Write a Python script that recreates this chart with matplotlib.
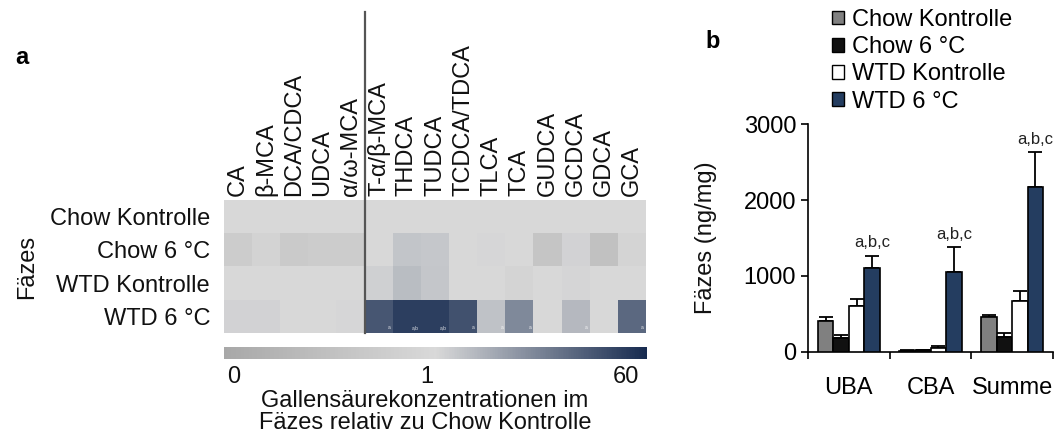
import matplotlib
matplotlib.use('Agg')
import matplotlib.pyplot as plt
import matplotlib.colors as mcolors
from matplotlib.patches import Patch
import numpy as np

plt.rcParams['font.family'] = ['Liberation Sans', 'DejaVu Sans']

# ── Data: heatmap (concentration relative to Chow Kontrolle) ─────────────────
acids = ['CA', 'β-MCA', 'DCA/CDCA', 'UDCA', 'α/ω-MCA', 'T-α/β-MCA', 'THDCA',
         'TUDCA', 'TCDCA/TDCA', 'TLCA', 'TCA', 'GUDCA', 'GCDCA', 'GDCA', 'GCA']
groups = ['Chow Kontrolle', 'Chow 6 °C', 'WTD Kontrolle', 'WTD 6 °C']
ratio_chow_ctrl = [1.0] * 15
ratio_chow_cold = [0.75, 0.88, 0.71, 0.75, 0.75, 1.0, 1.6, 1.5, 1.0, 1.05,
                   1.0, 0.61, 1.15, 0.53, 0.9]
ratio_wtd_ctrl = [1.02, 1.02, 1.0, 1.0, 1.0, 1.25, 1.9, 1.55, 1.0, 1.0,
                  0.9, 1.0, 1.1, 1.0, 1.0]
ratio_wtd_cold = [1.15, 1.15, 1.0, 1.0, 1.05, 21, 38, 38, 24, 1.68,
                  6.5, 1.0, 2.1, 1.0, 14]
sig_wtd_cold = ['', '', '', '', '', 'a', 'a,b', 'a,b', 'a', 'a',
                'a', '', 'a', '', 'a']

# ── Data: bar chart (ng/mg) ──────────────────────────────────────────────────
bile_cats = ['UBA', 'CBA', 'Summe']
series = ['Chow Kontrolle', 'Chow 6 °C', 'WTD Kontrolle', 'WTD 6 °C']
mean_chow_ctrl = [410, 15, 455]
mean_chow_cold = [187, 25, 200]
mean_wtd_ctrl = [601, 50, 667]
mean_wtd_cold = [1102, 1050, 2170]
err_chow_ctrl = [51, 5, 30]
err_chow_cold = [35, 5, 52]
err_wtd_ctrl = [101, 30, 134]
err_wtd_cold = [162, 326, 457]
sig_labels = ['a,b,c', 'a,b,c', 'a,b,c']

NAVY = '#243d60'
bar_colors = ['#808080', '#111111', '#ffffff', NAVY]
FS = 17

W, H = 1055, 434
fig = plt.figure(figsize=(W / 100, H / 100), dpi=100, facecolor='white')


def px_axes(x0, y0, x1, y1):
    """axes from pixel box (top-left origin)"""
    return fig.add_axes([x0 / W, (H - y1) / H, (x1 - x0) / W, (y1 - y0) / H])


# ── Panel a: heatmap ─────────────────────────────────────────────────────────
def fwd(v):
    v = np.asarray(v, dtype=float)
    return np.where(v <= 1, v, 1 + np.log(np.maximum(v, 1)) / np.log(60))


def inv(u):
    u = np.asarray(u, dtype=float)
    return np.where(u <= 1, u, 60 ** (u - 1))


norm = mcolors.FuncNorm((fwd, inv), vmin=0, vmax=60)
cmap = mcolors.LinearSegmentedColormap.from_list(
    'gcn', [(0, '#a8a8a8'), (0.5, '#d9d9d9'), (1, '#172b50')])

mat = np.array([ratio_chow_ctrl, ratio_chow_cold, ratio_wtd_ctrl, ratio_wtd_cold])

axh = px_axes(224, 200, 646, 333)
im = axh.imshow(mat, cmap=cmap, norm=norm, aspect='auto', interpolation='nearest')
axh.xaxis.tick_top()
axh.set_xticks(range(len(acids)))
axh.set_xticklabels(acids, rotation=90, fontsize=FS, color='#111111')
axh.set_yticks(range(len(groups)))
axh.set_yticklabels(groups, fontsize=FS, color='#111111')
axh.tick_params(length=0, pad=3)
axh.tick_params(axis='y', pad=10)
for s in axh.spines.values():
    s.set_visible(False)

for j, lab in enumerate(sig_wtd_cold):
    if lab:
        axh.text(j + 0.42, 3.42, lab, ha='right', va='bottom', fontsize=3.5,
                 color='white', alpha=0.85)

# separator line between unconjugated and conjugated acids
axh.plot([5 / 15, 5 / 15], [0, 2.41], transform=axh.transAxes,
         color='#555555', lw=1.6, clip_on=False)

fig.text(27 / W, 1 - 267 / H, 'Fäzes', rotation=90, ha='center', va='center',
         fontsize=FS, color='#111111')
fig.text(15 / W, 1 - 58 / H, 'a', ha='left', va='center', fontsize=17,
         fontweight='bold')

# colorbar
cax = px_axes(224, 347, 647, 359)
cb = fig.colorbar(im, cax=cax, orientation='horizontal')
cb.set_ticks([])
cb.outline.set_visible(False)
for xf, t in [(0.022, '0'), (0.48, '1'), (0.95, '60')]:
    cax.text(xf, -0.55, t, transform=cax.transAxes, ha='center', va='top',
             fontsize=FS, color='#111111')
fig.text(425 / W, 1 - 412 / H,
         'Gallensäurekonzentrationen im\nFäzes relativ zu Chow Kontrolle',
         ha='center', va='center', fontsize=FS, color='#111111',
         linespacing=1.0)

# ── Panel b: bar chart ───────────────────────────────────────────────────────
axb = px_axes(808, 124, 1053, 352)
means = [mean_chow_ctrl, mean_chow_cold, mean_wtd_ctrl, mean_wtd_cold]
errs = [err_chow_ctrl, err_chow_cold, err_wtd_ctrl, err_wtd_cold]
x = np.arange(len(bile_cats))
bw = 0.19
for i, (m, e, c, lab) in enumerate(zip(means, errs, bar_colors, series)):
    xs = x + (i - 1.5) * bw
    axb.errorbar(xs, m, yerr=[np.zeros(len(e)), e], fmt='none', ecolor='black',
                 elinewidth=1.3, capsize=5.2, capthick=1.3, zorder=2)
    axb.bar(xs, m, bw, color=c, edgecolor='black', linewidth=1.2, label=lab,
            zorder=3)

for xi, top, lab in zip(x + 1.5 * bw, np.add(mean_wtd_cold, err_wtd_cold), sig_labels):
    axb.annotate(lab, (xi, top), xytext=(0, 4), textcoords='offset points',
                 ha='center', va='bottom', fontsize=12, color='#222222')

axb.set_xlim(-0.5, 2.5)
axb.set_ylim(0, 3000)
axb.set_yticks([0, 1000, 2000, 3000])
axb.set_xticks(x)
axb.set_xticklabels(bile_cats)
axb.set_xticks([-0.5, 0.5, 1.5, 2.5], minor=True)
axb.tick_params(axis='x', which='major', length=0, pad=18, labelsize=FS)
axb.tick_params(axis='x', which='minor', length=5, width=1.2)
axb.tick_params(axis='y', length=5, width=1.2, labelsize=FS)
axb.spines['top'].set_visible(False)
axb.spines['right'].set_visible(False)
axb.spines['left'].set_linewidth(1.2)
axb.spines['bottom'].set_linewidth(1.2)

fig.text(706 / W, 1 - 238 / H, 'Fäzes (ng/mg)', rotation=90, ha='center',
         va='center', fontsize=FS, color='#111111')
fig.text(705 / W, 1 - 42 / H, 'b', ha='left', va='center', fontsize=17,
         fontweight='bold')

handles = [Patch(facecolor=c, edgecolor='black', linewidth=1.0, label=s)
           for c, s in zip(bar_colors, series)]
fig.legend(handles=handles, loc='upper left', bbox_to_anchor=(832 / W, 1 - 9 / H),
           frameon=False, fontsize=FS, handlelength=0.5, handleheight=0.5,
           handletextpad=0.35, labelspacing=0.22, borderpad=0, borderaxespad=0)

fig.savefig('out.png', dpi=100, facecolor='white')
